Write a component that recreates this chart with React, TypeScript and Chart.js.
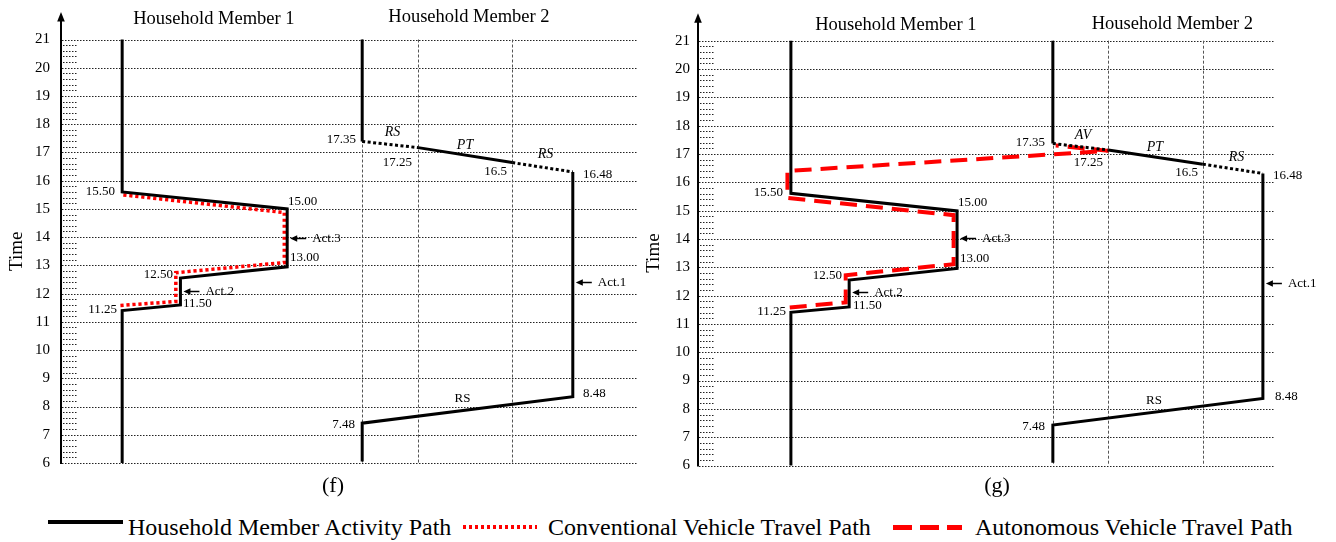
import React, { useEffect, useRef } from 'react';
import { Chart, registerables } from 'chart.js';
Chart.register(...registerables);

const SERIF = '"Liberation Serif", "Times New Roman", serif';
const RED = '#ff0000';

const TIME_MIN = 6;
const TIME_MAX = 21;
const MINOR_PER_HOUR = 5;
const LOC_MIN = 0;
const LOC_MAX = 100;

// ---------- Panel (f) ----------
const fMember1Loc = [10.6, 10.6, 39.2, 39.2, 20.7, 20.7, 10.6, 10.6];
const fMember1Time = [21, 15.6, 15.0, 12.95, 12.55, 11.6, 11.4, 6];
const fMember2Loc = [52.2, 52.2, 61.9, 78.2, 88.7, 88.7, 52.2, 52.2];
const fMember2Time = [21, 17.39, 17.17, 16.64, 16.31, 8.35, 7.41, 6.05];
const fMember2Legs = ['solid', 'dotted', 'solid', 'dotted', 'solid', 'solid', 'solid'];
const fVehicleLoc = [10.3, 19.9, 19.9, 38.7, 38.7, 10.6];
const fVehicleTime = [11.58, 11.72, 12.74, 13.1, 14.87, 15.5];
const fZoneLines = [52.2, 61.9, 78.2];
const fHeaders: [string, number, number][] = [
  ['Household Member 1', 26.5, 21.71],
  ['Household Member 2', 70.7, 21.78],
];
const fLabels: [string, number, number, CanvasTextAlign, boolean][] = [
  ['15.50', 9.36, 15.61, 'right', false],
  ['15.00', 39.34, 15.26, 'left', false],
  ['13.00', 39.69, 13.27, 'left', false],
  ['12.50', 19.41, 12.67, 'right', false],
  ['11.50', 21.14, 11.64, 'left', false],
  ['11.25', 9.71, 11.43, 'right', false],
  ['17.35', 51.13, 17.45, 'right', false],
  ['17.25', 60.83, 16.64, 'right', false],
  ['16.5', 77.3, 16.32, 'right', false],
  ['16.48', 90.47, 16.21, 'left', false],
  ['8.48', 90.47, 8.45, 'left', false],
  ['7.48', 50.95, 7.35, 'right', false],
  ['RS', 57.45, 17.7, 'center', true],
  ['PT', 70.02, 17.24, 'center', true],
  ['RS', 83.97, 16.92, 'center', true],
  ['RS', 69.58, 8.27, 'center', false],
];
const fActivities: [string, number, number][] = [
  ['Act.3', 39.2, 13.98],
  ['Act.2', 20.7, 12.1],
  ['Act.1', 88.7, 12.42],
];

// ---------- Panel (g) ----------
const gMember1Loc = [16.1, 16.1, 44.9, 44.9, 26.2, 26.2, 16.1, 16.1];
const gMember1Time = [21, 15.61, 14.99, 12.96, 12.55, 11.6, 11.41, 6];
const gMember2Loc = [61.5, 61.5, 71.1, 87.5, 97.9, 97.9, 61.5, 61.5];
const gMember2Time = [21, 17.37, 17.14, 16.64, 16.31, 8.37, 7.43, 6.1];
const gMember2Legs = ['solid', 'dotted', 'solid', 'dotted', 'solid', 'solid', 'solid'];
const gVehicleLoc = [15.9, 25.6, 25.6, 44.3, 44.3, 15.5, 15.5, 71.1, 62.0];
const gVehicleTime = [11.58, 11.76, 12.72, 13.11, 14.84, 15.45, 16.4, 17.11, 17.3];
const gZoneLines = [61.5, 71.1, 87.5];
const gHeaders: [string, number, number][] = [
  ['Household Member 1', 34.3, 21.55],
  ['Household Member 2', 82.2, 21.58],
];
const gLabels: [string, number, number, CanvasTextAlign, boolean][] = [
  ['15.50', 14.73, 15.62, 'right', false],
  ['15.00', 45.06, 15.3, 'left', false],
  ['13.00', 45.41, 13.29, 'left', false],
  ['12.50', 24.96, 12.69, 'right', false],
  ['11.50', 26.86, 11.63, 'left', false],
  ['11.25', 15.25, 11.45, 'right', false],
  ['17.35', 60.14, 17.42, 'right', false],
  ['17.25', 70.19, 16.68, 'right', false],
  ['16.5', 86.66, 16.36, 'right', false],
  ['16.48', 99.65, 16.25, 'left', false],
  ['8.48', 100.0, 8.45, 'left', false],
  ['7.48', 60.14, 7.36, 'right', false],
  ['AV', 66.72, 17.67, 'center', true],
  ['PT', 79.2, 17.24, 'center', true],
  ['RS', 93.33, 16.89, 'center', true],
  ['RS', 79.03, 8.28, 'center', false],
];
const gActivities: [string, number, number][] = [
  ['Act.3', 44.9, 14.03],
  ['Act.2', 26.2, 12.12],
  ['Act.1', 97.9, 12.44],
];

type PanelCfg = {
  left: number;
  width: number;
  height: number;
  axisWidth: number;
  padTop: number;
  padBottom: number;
  padRight: number;
  tickPad: number;
  titlePad: number;
  m1Loc: number[];
  m1Time: number[];
  m2Loc: number[];
  m2Time: number[];
  m2Legs: string[];
  vLoc: number[];
  vTime: number[];
  vDash: number[];
  vWidth: number;
  zones: number[];
  headers: [string, number, number][];
  labels: [string, number, number, CanvasTextAlign, boolean][];
  acts: [string, number, number][];
};

const panelF: PanelCfg = {
  left: 0, width: 640, height: 505, axisWidth: 61,
  padTop: 39.5, padBottom: 42, padRight: 2, tickPad: 11, titlePad: 5.6,
  m1Loc: fMember1Loc, m1Time: fMember1Time,
  m2Loc: fMember2Loc, m2Time: fMember2Time, m2Legs: fMember2Legs,
  vLoc: fVehicleLoc, vTime: fVehicleTime, vDash: [3.2, 2.8], vWidth: 3.5,
  zones: fZoneLines, headers: fHeaders, labels: fLabels, acts: fActivities,
};

const panelG: PanelCfg = {
  left: 640, width: 696, height: 505, axisWidth: 58,
  padTop: 40.7, padBottom: 39.5, padRight: 61, tickPad: 8, titlePad: 2.6,
  m1Loc: gMember1Loc, m1Time: gMember1Time,
  m2Loc: gMember2Loc, m2Time: gMember2Time, m2Legs: gMember2Legs,
  vLoc: gVehicleLoc, vTime: gVehicleTime, vDash: [17, 9], vWidth: 4,
  zones: gZoneLines, headers: gHeaders, labels: gLabels, acts: gActivities,
};

const pts = (xs: number[], ys: number[]) => xs.map((x, i) => ({ x, y: ys[i] }));

function makePlugin(p: PanelCfg) {
  return {
    id: 'timeSpaceDecor',
    beforeDatasetsDraw(chart: any) {
      const { ctx, chartArea: a, scales } = chart;
      const x = scales.x;
      const y = scales.y;
      ctx.save();
      ctx.lineWidth = 1;
      ctx.strokeStyle = '#222';
      ctx.setLineDash([1.5, 1.5]);
      for (let t = TIME_MIN; t <= TIME_MAX; t++) {
        const py = Math.round(y.getPixelForValue(t)) + 0.5;
        ctx.beginPath();
        ctx.moveTo(a.left + 1, py);
        ctx.lineTo(a.right, py);
        ctx.stroke();
      }
      for (let t = TIME_MIN; t < TIME_MAX; t++) {
        for (let k = 1; k < MINOR_PER_HOUR; k++) {
          const py = Math.round(y.getPixelForValue(t + k / MINOR_PER_HOUR)) + 0.5;
          ctx.beginPath();
          ctx.moveTo(a.left + 2, py);
          ctx.lineTo(a.left + 16, py);
          ctx.stroke();
        }
      }
      ctx.strokeStyle = '#555';
      ctx.setLineDash([3, 2]);
      const yTop = y.getPixelForValue(TIME_MAX);
      const yBot = y.getPixelForValue(TIME_MIN);
      for (const z of p.zones) {
        const px = Math.round(x.getPixelForValue(z)) + 0.5;
        ctx.beginPath();
        ctx.moveTo(px, yTop);
        ctx.lineTo(px, yBot);
        ctx.stroke();
      }
      ctx.restore();
    },
    afterDatasetsDraw(chart: any) {
      const { ctx, chartArea: a, scales } = chart;
      const x = scales.x;
      const y = scales.y;
      ctx.save();
      ctx.setLineDash([]);
      ctx.strokeStyle = '#000';
      ctx.fillStyle = '#000';
      ctx.lineWidth = 2;
      ctx.beginPath();
      ctx.moveTo(a.left, a.bottom + 1);
      ctx.lineTo(a.left, a.top - 19);
      ctx.stroke();
      ctx.beginPath();
      ctx.moveTo(a.left, a.top - 27.5);
      ctx.lineTo(a.left - 3.8, a.top - 18);
      ctx.lineTo(a.left + 3.8, a.top - 18);
      ctx.closePath();
      ctx.fill();

      const text = (s: string, px: number, py: number, align: CanvasTextAlign, italic: boolean, size: number) => {
        ctx.font = `${italic ? 'italic ' : ''}${size}px ${SERIF}`;
        ctx.textAlign = align;
        ctx.textBaseline = 'middle';
        ctx.fillStyle = '#000';
        ctx.fillText(s, px, py);
      };

      for (const [s, lx, ly] of p.headers) {
        text(s, x.getPixelForValue(lx), y.getPixelForValue(ly), 'center', false, 18.5);
      }
      for (const [s, lx, ly, al, it] of p.labels) {
        text(s, x.getPixelForValue(lx), y.getPixelForValue(ly), al, it, it ? 14 : 13);
      }
      for (const [s, lx, ly] of p.acts) {
        const px = x.getPixelForValue(lx);
        const py = Math.round(y.getPixelForValue(ly)) + 0.5;
        ctx.lineWidth = 1.5;
        ctx.beginPath();
        ctx.moveTo(px + 9, py);
        ctx.lineTo(px + 19, py);
        ctx.stroke();
        ctx.beginPath();
        ctx.moveTo(px + 3, py);
        ctx.lineTo(px + 10, py - 3.2);
        ctx.lineTo(px + 10, py + 3.2);
        ctx.closePath();
        ctx.fill();
        text(s, px + 25, py, 'left', false, 13);
      }
      ctx.restore();
    },
  };
}

function Panel({ cfg }: { cfg: PanelCfg }) {
  const ref = useRef<HTMLCanvasElement>(null);
  useEffect(() => {
    const canvas = ref.current;
    if (!canvas) return;
    const base = {
      showLine: true,
      pointRadius: 0,
      pointHoverRadius: 0,
      fill: false,
      tension: 0,
      clip: false as any,
      borderJoinStyle: 'miter' as const,
      borderCapStyle: 'butt' as const,
    };
    const chart = new Chart(canvas, {
      type: 'scatter',
      data: {
        datasets: [
          {
            ...base,
            label: 'Household Member 1',
            data: pts(cfg.m1Loc, cfg.m1Time),
            borderColor: '#000',
            borderWidth: 3,
          },
          {
            ...base,
            label: 'Household Member 2',
            data: pts(cfg.m2Loc, cfg.m2Time),
            borderColor: '#000',
            borderWidth: 3,
            segment: {
              borderDash: (c: any) => (cfg.m2Legs[c.p0DataIndex] === 'dotted' ? [3, 2.5] : undefined),
            },
          },
          {
            ...base,
            label: 'Vehicle Travel Path',
            data: pts(cfg.vLoc, cfg.vTime),
            borderColor: RED,
            borderWidth: cfg.vWidth,
            borderDash: cfg.vDash,
          },
        ] as any,
      },
      options: {
        responsive: false,
        animation: false,
        events: [],
        layout: { padding: { top: cfg.padTop, bottom: cfg.padBottom, left: 0, right: cfg.padRight } },
        plugins: { legend: { display: false }, tooltip: { enabled: false }, title: { display: false } },
        scales: {
          x: { type: 'linear', min: LOC_MIN, max: LOC_MAX, display: false },
          y: {
            type: 'linear',
            min: TIME_MIN,
            max: TIME_MAX,
            afterFit: (s: any) => {
              s.width = cfg.axisWidth;
            },
            grid: { display: false, drawTicks: false },
            border: { display: false },
            ticks: { stepSize: 1, padding: cfg.tickPad, color: '#000', font: { family: SERIF, size: 15 } },
            title: {
              display: true,
              text: 'Time',
              color: '#000',
              font: { family: SERIF, size: 19 },
              padding: { top: cfg.titlePad, bottom: 0 },
            },
          },
        },
      } as any,
      plugins: [makePlugin(cfg) as any],
    });
    return () => chart.destroy();
  }, [cfg]);
  return (
    <canvas
      ref={ref}
      width={cfg.width}
      height={cfg.height}
      style={{ position: 'absolute', left: cfg.left, top: 0, width: cfg.width, height: cfg.height }}
    />
  );
}

const legendText: React.CSSProperties = {
  position: 'absolute',
  top: 515,
  font: `24px/24px ${SERIF}`,
  color: '#000',
  whiteSpace: 'nowrap',
};

export default function App() {
  return (
    <div
      style={{
        position: 'absolute',
        left: 0,
        top: 0,
        width: 1336,
        height: 542,
        background: '#fff',
        overflow: 'hidden',
      }}
    >
      <Panel cfg={panelF} />
      <Panel cfg={panelG} />
      <div style={{ position: 'absolute', left: 283, width: 100, top: 474, textAlign: 'center', font: `22px/22px ${SERIF}` }}>(f)</div>
      <div style={{ position: 'absolute', left: 947, width: 100, top: 474, textAlign: 'center', font: `22px/22px ${SERIF}` }}>(g)</div>

      <div style={{ position: 'absolute', left: 48, top: 520, width: 75, height: 4, background: '#000' }} />
      <div style={{ ...legendText, left: 128 }}>Household Member Activity Path</div>
      <div
        style={{
          position: 'absolute',
          left: 463,
          top: 525,
          width: 74,
          height: 3.5,
          background: `repeating-linear-gradient(to right, ${RED} 0px, ${RED} 3.3px, transparent 3.3px, transparent 6px)`,
        }}
      />
      <div style={{ ...legendText, left: 548 }}>Conventional Vehicle Travel Path</div>
      <div
        style={{
          position: 'absolute',
          left: 893,
          top: 525,
          width: 69,
          height: 4.5,
          background: `repeating-linear-gradient(to right, ${RED} 0px, ${RED} 19px, transparent 19px, transparent 27px)`,
        }}
      />
      <div style={{ ...legendText, left: 975 }}>Autonomous Vehicle Travel Path</div>
    </div>
  );
}
